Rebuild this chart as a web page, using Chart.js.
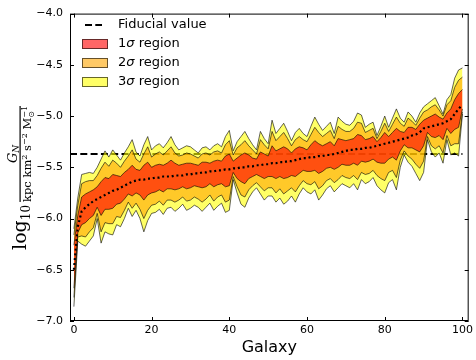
<!DOCTYPE html>
<html>
<head>
<meta charset="utf-8">
<script src="https://cdn.jsdelivr.net/npm/chart.js"></script>
<style>
  body { margin: 0; background: #fff; }
</style>
</head>
<body>
<canvas id="chart" width="476" height="360"></canvas>
<script>
// galaxy index (categories)
var galaxies = Array.from({ length: 101 }, (_, i) => i);
var xTicks = [0, 20, 40, 60, 80, 100];
var yTicks = [-7.0, -6.5, -6.0, -5.5, -5.0, -4.5, -4.0];
var fiducialValue = -5.37;

// median of log10 G_N per galaxy
var median = [
  -6.50,-6.08,-5.93,-5.89,-5.86,-5.83,-5.81,-5.79,-5.77,-5.75,
  -5.73,-5.72,-5.70,-5.68,-5.66,-5.64,-5.63,-5.62,-5.62,-5.61,
  -5.61,-5.60,-5.60,-5.59,-5.59,-5.59,-5.58,-5.58,-5.58,-5.57,
  -5.57,-5.56,-5.56,-5.55,-5.55,-5.54,-5.54,-5.53,-5.53,-5.52,
  -5.52,-5.51,-5.51,-5.50,-5.50,-5.49,-5.49,-5.48,-5.48,-5.47,
  -5.47,-5.46,-5.46,-5.45,-5.45,-5.44,-5.44,-5.43,-5.42,-5.41,
  -5.41,-5.40,-5.40,-5.39,-5.39,-5.38,-5.38,-5.37,-5.36,-5.35,
  -5.34,-5.33,-5.33,-5.32,-5.32,-5.31,-5.31,-5.30,-5.29,-5.28,
  -5.27,-5.26,-5.25,-5.24,-5.23,-5.22,-5.21,-5.19,-5.18,-5.16,
  -5.12,-5.11,-5.10,-5.09,-5.08,-5.07,-5.05,-5.03,-4.98,-4.93,
  -4.89];

// 1 sigma bounds
var sig1Hi = [
  -6.26,-5.97,-5.79,-5.76,-5.74,-5.72,-5.69,-5.64,-5.60,-5.61,
  -5.57,-5.58,-5.59,-5.55,-5.52,-5.48,-5.52,-5.53,-5.48,-5.45,
  -5.50,-5.48,-5.47,-5.48,-5.46,-5.43,-5.46,-5.48,-5.47,-5.46,
  -5.46,-5.47,-5.48,-5.45,-5.45,-5.46,-5.44,-5.43,-5.44,-5.39,
  -5.37,-5.44,-5.41,-5.38,-5.36,-5.38,-5.41,-5.42,-5.35,-5.37,
  -5.39,-5.29,-5.34,-5.32,-5.30,-5.32,-5.36,-5.32,-5.30,-5.31,
  -5.33,-5.28,-5.24,-5.27,-5.29,-5.27,-5.25,-5.29,-5.22,-5.23,
  -5.24,-5.23,-5.22,-5.18,-5.19,-5.23,-5.22,-5.20,-5.25,-5.21,
  -5.16,-5.20,-5.16,-5.12,-5.15,-5.16,-5.11,-5.11,-5.13,-5.08,
  -5.04,-5.02,-5.00,-4.98,-5.01,-5.03,-4.97,-4.93,-4.84,-4.78,
  -4.74];
var sig1Lo = [
  -6.68,-6.14,-6.06,-6.04,-6.00,-5.97,-5.89,-5.97,-5.91,-5.91,
  -5.90,-5.86,-5.85,-5.81,-5.76,-5.78,-5.75,-5.77,-5.82,-5.77,
  -5.75,-5.74,-5.72,-5.74,-5.71,-5.71,-5.72,-5.71,-5.69,-5.71,
  -5.70,-5.68,-5.69,-5.70,-5.69,-5.66,-5.69,-5.67,-5.66,-5.69,
  -5.68,-5.55,-5.61,-5.64,-5.66,-5.61,-5.59,-5.57,-5.59,-5.61,
  -5.59,-5.59,-5.61,-5.59,-5.61,-5.60,-5.58,-5.59,-5.56,-5.53,
  -5.54,-5.54,-5.53,-5.56,-5.54,-5.51,-5.50,-5.52,-5.50,-5.47,
  -5.48,-5.48,-5.46,-5.48,-5.44,-5.45,-5.44,-5.42,-5.45,-5.46,
  -5.46,-5.42,-5.40,-5.43,-5.34,-5.28,-5.31,-5.31,-5.33,-5.35,
  -5.29,-5.16,-5.20,-5.21,-5.19,-5.23,-5.12,-5.17,-5.13,-5.11,
  -4.93];

// 2 sigma bounds
var sig2Hi = [
  -6.16,-5.87,-5.66,-5.64,-5.63,-5.63,-5.58,-5.51,-5.45,-5.49,
  -5.43,-5.46,-5.50,-5.44,-5.39,-5.33,-5.42,-5.45,-5.37,-5.30,
  -5.40,-5.37,-5.35,-5.38,-5.34,-5.30,-5.36,-5.39,-5.38,-5.36,
  -5.37,-5.39,-5.41,-5.37,-5.36,-5.38,-5.35,-5.34,-5.36,-5.28,
  -5.24,-5.38,-5.31,-5.28,-5.24,-5.29,-5.33,-5.37,-5.23,-5.28,
  -5.32,-5.15,-5.24,-5.20,-5.16,-5.22,-5.29,-5.23,-5.20,-5.23,
  -5.25,-5.18,-5.11,-5.16,-5.20,-5.17,-5.14,-5.22,-5.10,-5.13,
  -5.15,-5.15,-5.12,-5.06,-5.07,-5.16,-5.14,-5.12,-5.22,-5.15,
  -5.07,-5.15,-5.08,-5.01,-5.07,-5.10,-5.02,-5.05,-5.09,-5.02,
  -4.96,-4.94,-4.91,-4.89,-4.94,-5.00,-4.89,-4.85,-4.72,-4.65,
  -4.62];
var sig2Lo = [
  -6.77,-6.18,-6.17,-6.18,-6.13,-6.09,-5.95,-6.13,-6.04,-6.05,
  -6.05,-5.98,-5.99,-5.92,-5.84,-5.90,-5.85,-5.91,-6.00,-5.92,
  -5.87,-5.86,-5.83,-5.87,-5.82,-5.82,-5.84,-5.82,-5.79,-5.83,
  -5.82,-5.79,-5.81,-5.84,-5.81,-5.77,-5.83,-5.79,-5.77,-5.84,
  -5.82,-5.59,-5.69,-5.77,-5.79,-5.72,-5.68,-5.65,-5.69,-5.73,
  -5.70,-5.70,-5.75,-5.71,-5.76,-5.73,-5.70,-5.74,-5.68,-5.63,
  -5.66,-5.67,-5.64,-5.71,-5.68,-5.63,-5.61,-5.65,-5.62,-5.58,
  -5.60,-5.61,-5.58,-5.62,-5.55,-5.57,-5.56,-5.53,-5.58,-5.61,
  -5.63,-5.55,-5.53,-5.60,-5.43,-5.34,-5.39,-5.42,-5.47,-5.51,
  -5.44,-5.20,-5.29,-5.32,-5.29,-5.36,-5.19,-5.29,-5.27,-5.27,
  -4.96];

// 3 sigma bounds
var sig3Hi = [
  -6.10,-5.80,-5.57,-5.56,-5.55,-5.56,-5.50,-5.42,-5.34,-5.40,
  -5.33,-5.38,-5.43,-5.36,-5.30,-5.23,-5.35,-5.39,-5.28,-5.20,
  -5.33,-5.29,-5.27,-5.31,-5.26,-5.20,-5.28,-5.33,-5.31,-5.29,
  -5.30,-5.33,-5.36,-5.31,-5.30,-5.33,-5.29,-5.27,-5.30,-5.20,
  -5.14,-5.34,-5.25,-5.20,-5.15,-5.22,-5.28,-5.33,-5.15,-5.22,
  -5.27,-5.04,-5.17,-5.12,-5.07,-5.15,-5.24,-5.16,-5.12,-5.17,
  -5.20,-5.10,-5.01,-5.08,-5.14,-5.10,-5.06,-5.17,-5.01,-5.05,
  -5.08,-5.09,-5.05,-4.97,-4.99,-5.11,-5.08,-5.06,-5.19,-5.10,
  -5.00,-5.11,-5.02,-4.93,-5.02,-5.06,-4.96,-5.00,-5.06,-4.97,
  -4.91,-4.88,-4.85,-4.82,-4.90,-4.98,-4.84,-4.79,-4.63,-4.55,
  -4.53];
var sig3Lo = [
  -6.86,-6.22,-6.25,-6.27,-6.22,-6.17,-6.00,-6.24,-6.13,-6.15,
  -6.16,-6.06,-6.08,-6.00,-5.90,-5.98,-5.92,-6.00,-6.13,-6.02,
  -5.95,-5.94,-5.91,-5.96,-5.90,-5.89,-5.93,-5.90,-5.86,-5.92,
  -5.90,-5.87,-5.89,-5.93,-5.89,-5.85,-5.92,-5.88,-5.85,-5.94,
  -5.92,-5.62,-5.75,-5.86,-5.89,-5.80,-5.74,-5.70,-5.76,-5.82,
  -5.78,-5.78,-5.84,-5.80,-5.86,-5.83,-5.78,-5.84,-5.76,-5.70,
  -5.74,-5.76,-5.72,-5.82,-5.77,-5.71,-5.68,-5.74,-5.70,-5.66,
  -5.68,-5.70,-5.66,-5.72,-5.62,-5.66,-5.64,-5.60,-5.68,-5.72,
  -5.75,-5.65,-5.62,-5.72,-5.50,-5.38,-5.45,-5.49,-5.56,-5.63,
  -5.55,-5.23,-5.35,-5.40,-5.36,-5.46,-5.23,-5.38,-5.36,-5.39,
  -4.98];

var red = 'rgba(255, 0, 0, 0.6)';
var orange = 'rgba(255, 165, 0, 0.6)';
var yellow = 'rgba(255, 255, 0, 0.6)';
var edge = 'rgba(0, 0, 0, 0.6)';

function pts(arr) {
    return galaxies.map((g, i) => ({ x: g, y: arr[i] }));
}

function band(hi, lo, color, order) {
    return [
        { data: pts(hi), borderColor: edge, borderWidth: 1, pointRadius: 0, fill: false, order: order },
        { data: pts(lo), borderColor: edge, borderWidth: 1, pointRadius: 0, fill: '-1', backgroundColor: color, order: order }
    ];
}

// draw a list of text runs along the current x direction
function drawRuns(ctx, runs, u, v, measureOnly) {
    var start = u, prev = u;
    runs.forEach(r => {
        ctx.font = r.f;
        if (r.stack) u = prev;
        prev = u;
        if (!measureOnly) ctx.fillText(r.t, u, v + (r.dv || 0));
        u += ctx.measureText(r.t).width;
    });
    return u - start;
}

var axisDeco = {
    id: 'axisDeco',
    afterDraw(chart) {
        var ctx = chart.ctx, a = chart.chartArea;
        var xs = chart.scales.x, ys = chart.scales.y;
        ctx.save();
        // frame
        ctx.strokeStyle = '#000';
        ctx.lineWidth = 1;
        ctx.strokeRect(a.left + 0.5, a.top + 0.5, a.right - a.left - 1, a.bottom - a.top - 1);
        // inward ticks on all four sides
        ctx.beginPath();
        xTicks.forEach(v => {
            var px = Math.round(xs.getPixelForValue(v)) + 0.5;
            ctx.moveTo(px, a.bottom); ctx.lineTo(px, a.bottom - 4);
            ctx.moveTo(px, a.top); ctx.lineTo(px, a.top + 4);
        });
        yTicks.forEach(v => {
            var py = Math.round(ys.getPixelForValue(v)) + 0.5;
            ctx.moveTo(a.left, py); ctx.lineTo(a.left + 4, py);
            ctx.moveTo(a.right, py); ctx.lineTo(a.right - 4, py);
        });
        ctx.stroke();

        // legend
        var lx = 82, tx = 118;
        ctx.fillStyle = '#000';
        ctx.textBaseline = 'middle';
        ctx.font = '13px "DejaVu Sans"';
        ctx.setLineDash([7, 3.3]);
        ctx.lineWidth = 2;
        ctx.beginPath();
        ctx.moveTo(lx + 3, 25); ctx.lineTo(lx + 20, 25);
        ctx.stroke();
        ctx.setLineDash([]);
        ctx.fillText('Fiducial value', tx, 25);
        [['1', red, 44], ['2', orange, 63], ['3', yellow, 82]].forEach(e => {
            ctx.fillStyle = e[1];
            ctx.fillRect(lx, e[2] - 5, 26, 10);
            ctx.strokeStyle = edge;
            ctx.lineWidth = 1;
            ctx.strokeRect(lx + 0.5, e[2] - 4.5, 25, 9);
            ctx.fillStyle = '#000';
            drawRuns(ctx, [
                { t: e[0], f: '13px "DejaVu Sans"' },
                { t: 'σ', f: 'italic 13px "DejaVu Sans"' },
                { t: ' region', f: '13px "DejaVu Sans"' }
            ], tx, e[2]);
        });

        // y axis label: log10 G_N / (kpc km^2 s^-2 Msun^-1), read bottom to top
        ctx.rotate(-Math.PI / 2);
        ctx.textBaseline = 'alphabetic';
        ctx.fillStyle = '#000';
        var serif = '"DejaVu Serif"';
        var logRuns = [
            { t: 'log', f: '19px ' + serif },
            { t: '10', f: '12px ' + serif, dv: 4 }
        ];
        var numRuns = [
            { t: 'G', f: 'italic 13px ' + serif },
            { t: 'N', f: 'italic 9px ' + serif, dv: 2 }
        ];
        var denRuns = [
            { t: 'kpc km', f: '11.5px ' + serif },
            { t: '2', f: '8px ' + serif, dv: -4.5 },
            { t: ' s', f: '11.5px ' + serif },
            { t: '−2', f: '8px ' + serif, dv: -4.5 },
            { t: ' M', f: '11.5px ' + serif },
            { t: '⊙', f: '8px "DejaVu Sans"', dv: 3 },
            { t: '−1', f: '8px ' + serif, dv: -4.5, stack: true }
        ];
        var wLog = drawRuns(ctx, logRuns, 0, 0, true);
        var wNum = drawRuns(ctx, numRuns, 0, 0, true);
        var wDen = drawRuns(ctx, denRuns, 0, 0, true);
        var fracEnd = 106;
        var f0 = -(fracEnd + wDen);
        var u0 = f0 - 3 - wLog;
        drawRuns(ctx, logRuns, u0, 26);
        ctx.fillRect(f0, 19.5, wDen, 1.2);
        drawRuns(ctx, numRuns, f0 + (wDen - wNum) / 2, 16.5);
        drawRuns(ctx, denRuns, f0, 31);
        ctx.restore();
    }
};

var datasets = [
    { data: pts(median), borderColor: '#000', borderWidth: 2.2, borderDash: [2, 2.8], borderCapStyle: 'butt', pointRadius: 0, fill: false, order: 0 }
].concat(band(sig1Hi, sig1Lo, red, 1))
 .concat(band(sig2Hi, sig2Lo, orange, 2))
 .concat(band(sig3Hi, sig3Lo, yellow, 3))
 .concat([
    { data: [{ x: -1, y: fiducialValue }, { x: 100, y: fiducialValue }], borderColor: '#000', borderWidth: 2, borderDash: [7, 3.3], pointRadius: 0, fill: false, order: 4 }
 ]);

new Chart(document.getElementById('chart'), {
    type: 'line',
    data: { datasets: datasets },
    options: {
        responsive: false,
        animation: false,
        layout: { padding: { left: 0, right: 3, top: 7, bottom: 0 } },
        plugins: { legend: { display: false }, tooltip: { enabled: false } },
        elements: { line: { tension: 0 } },
        scales: {
            x: {
                type: 'linear',
                min: -1,
                max: 101.6,
                afterBuildTicks: s => { s.ticks = xTicks.map(v => ({ value: v })); },
                afterFit: s => { s.height = 39; },
                grid: { display: false, drawTicks: false },
                border: { display: false },
                ticks: { padding: 3, color: '#000', autoSkip: false, maxRotation: 0, font: { family: 'DejaVu Sans', size: 11 } },
                title: { display: true, text: 'Galaxy', color: '#000', font: { family: 'DejaVu Sans', size: 16 }, padding: { top: 0, bottom: 3 } }
            },
            y: {
                type: 'linear',
                min: -7,
                max: -4,
                afterBuildTicks: s => { s.ticks = yTicks.map(v => ({ value: v })); },
                afterFit: s => { s.width = 70; },
                grid: { display: false, drawTicks: false },
                border: { display: false },
                ticks: {
                    padding: 7, color: '#000', font: { family: 'DejaVu Sans', size: 11 },
                    callback: v => v.toFixed(1).replace('-', '−')
                }
            }
        }
    },
    plugins: [axisDeco]
});
</script>
</body>
</html>
